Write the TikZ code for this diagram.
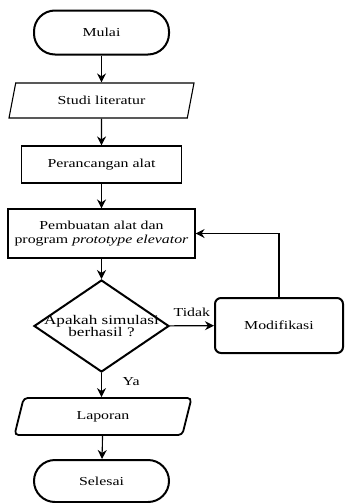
\documentclass[tikz,border=0pt]{standalone}
\usepackage{fontspec}
\setmainfont{Liberation Serif}[FakeStretch=1.3]
\usetikzlibrary{arrows.meta,shapes.geometric}

\begin{document}
\begin{tikzpicture}[->,>={Stealth[length=4.5pt,width=4.5pt]},x=0.5pt,y=-0.5pt,
  line width=0.55pt,
  every node/.style={font=\fontsize{6.1}{7}\selectfont,align=center},
  term node/.style={draw,rectangle,rounded corners=10.5pt,line width=1pt,
    minimum width=67.5pt,minimum height=22pt,inner sep=0pt},
  io node/.style={draw,trapezium,trapezium left angle=52,trapezium right angle=128,
    trapezium stretches body,minimum height=17.5pt,inner sep=0pt},
  proc node/.style={draw,rectangle,minimum height=18.5pt,inner sep=0pt},
  dec node/.style={draw,diamond,line width=1pt,minimum width=67.5pt,
    minimum height=46pt,inner sep=0pt}]

  \useasboundingbox (0,0) rectangle (345,503);

  \node[term node] (mulai) at (101.5, 32.5)
    {Mulai};
  \node[io node, minimum width=92.5pt] (studi) at (101.5, 100.5)
    {Studi literatur};
  \node[proc node, minimum width=80pt] (rancang) at (101.5, 164.5)
    {Perancangan alat};
  \node[proc node, minimum width=93.5pt, minimum height=24.5pt] (buat) at (101.5, 233.5)
    {Pembuatan alat dan\\program \textit{prototype elevator}};
  \node[dec node] (cek) at (101.5, 326)
    {};
  \node[font=\fontsize{6.6}{6.3}\selectfont] (cektext) at (101.5, 326)
    {Apakah simulasi\\berhasil ?};
  \node[proc node, rounded corners=3pt, line width=1pt, minimum width=64pt,
    minimum height=27.5pt] (modif) at (279, 325.5)
    {Modifikasi};
  \node[io node, rounded corners=2pt, line width=0.9pt, trapezium left angle=49,
    trapezium right angle=131, minimum width=88.5pt, minimum height=18.5pt] (lapor) at (103, 416.5)
    {Laporan};
  \node[term node, minimum height=21pt] (selesai) at (101.5, 481)
    {Selesai};

  \path[->]
    (mulai) edge (studi)
    (studi) edge (rancang)
    (rancang) edge (buat)
    (buat) edge (cek)
    (cek) edge node[above=1pt] {Tidak} (modif)
    (cek) edge node[pos=0.35, right=7pt] {Ya} (cek |- lapor.north)
    (lapor) edge (selesai);
  \draw[->] (modif.north) |- (buat.east);

\end{tikzpicture}
\end{document}
